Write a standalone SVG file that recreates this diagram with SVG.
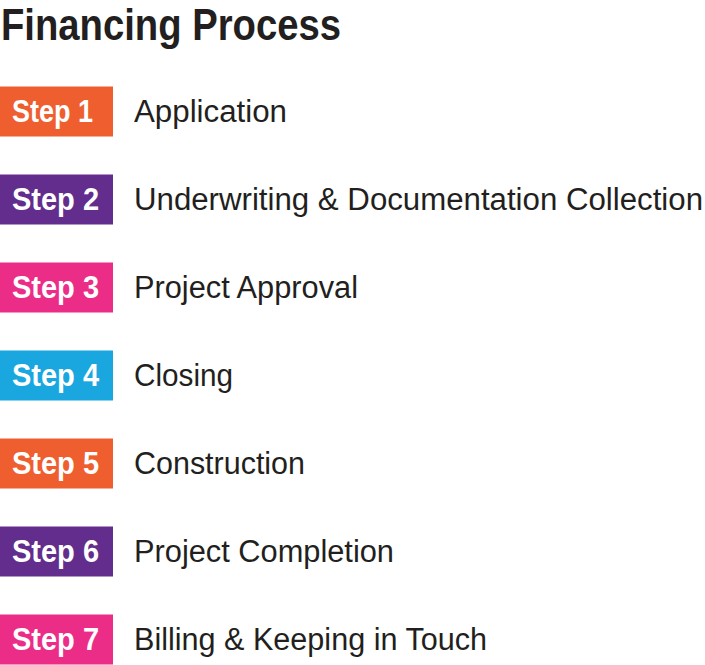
<svg xmlns="http://www.w3.org/2000/svg" width="705" height="665" viewBox="0 0 705 665">
<style>
.title{font-family:"Liberation Sans",Arial,sans-serif;font-weight:bold;font-size:44px;fill:#231F20}
.lbl{font-family:"Liberation Sans",Arial,sans-serif;font-weight:bold;font-size:31px;fill:#fff}
.txt{font-family:"Liberation Sans",Arial,sans-serif;font-size:31px;fill:#231F20}
.o{fill:#EF5E2F}.p{fill:#632D8D}.k{fill:#EC2D87}.b{fill:#1AA6DE}
</style>
<rect width="705" height="665" fill="#fff"/>
<text class="title" x="1" y="40" textLength="340" lengthAdjust="spacingAndGlyphs">Financing Process</text>
<g id="step1"><rect class="o" x="0" y="86.5" width="113" height="50"/><text class="lbl" x="12" y="121.5" textLength="81" lengthAdjust="spacingAndGlyphs">Step 1</text><text class="txt" x="134" y="121.5" textLength="153" lengthAdjust="spacingAndGlyphs">Application</text></g>
<g id="step2"><rect class="p" x="0" y="174.5" width="113" height="50"/><text class="lbl" x="12" y="209.5" textLength="87" lengthAdjust="spacingAndGlyphs">Step 2</text><text class="txt" x="134" y="209.5" textLength="569" lengthAdjust="spacingAndGlyphs">Underwriting &amp; Documentation Collection</text></g>
<g id="step3"><rect class="k" x="0" y="262.5" width="113" height="50"/><text class="lbl" x="12" y="297.5" textLength="87" lengthAdjust="spacingAndGlyphs">Step 3</text><text class="txt" x="134" y="297.5" textLength="224" lengthAdjust="spacingAndGlyphs">Project Approval</text></g>
<g id="step4"><rect class="b" x="0" y="350.5" width="113" height="50"/><text class="lbl" x="12" y="385.5" textLength="87" lengthAdjust="spacingAndGlyphs">Step 4</text><text class="txt" x="134" y="385.5" textLength="99" lengthAdjust="spacingAndGlyphs">Closing</text></g>
<g id="step5"><rect class="o" x="0" y="438.5" width="113" height="50"/><text class="lbl" x="12" y="473.5" textLength="87" lengthAdjust="spacingAndGlyphs">Step 5</text><text class="txt" x="134" y="473.5" textLength="171" lengthAdjust="spacingAndGlyphs">Construction</text></g>
<g id="step6"><rect class="p" x="0" y="526.5" width="113" height="50"/><text class="lbl" x="12" y="561.5" textLength="87" lengthAdjust="spacingAndGlyphs">Step 6</text><text class="txt" x="134" y="561.5" textLength="260" lengthAdjust="spacingAndGlyphs">Project Completion</text></g>
<g id="step7"><rect class="k" x="0" y="614.5" width="113" height="50"/><text class="lbl" x="12" y="649.5" textLength="87" lengthAdjust="spacingAndGlyphs">Step 7</text><text class="txt" x="134" y="649.5" textLength="353" lengthAdjust="spacingAndGlyphs">Billing &amp; Keeping in Touch</text></g>
<g id="connectors"/>
</svg>
